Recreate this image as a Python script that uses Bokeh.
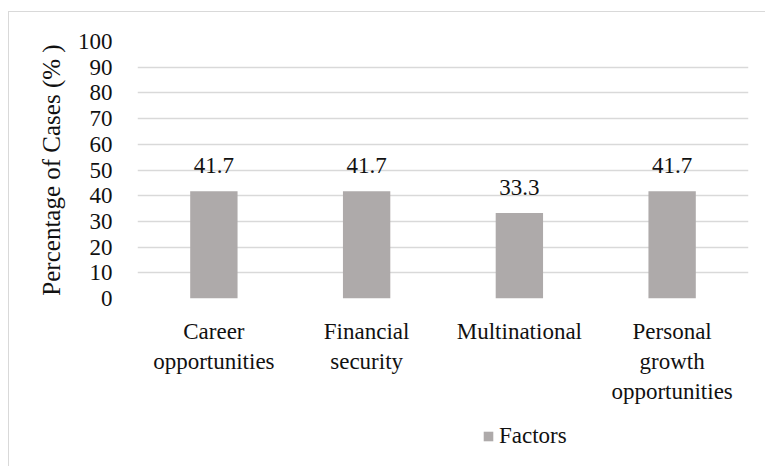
from bokeh.plotting import figure
from bokeh.layouts import column
from bokeh.core.properties import value
from bokeh.models import (FactorRange, Range1d, FixedTicker, ColumnDataSource,
                          LabelSet, Legend, LegendItem)
from bokeh.embed import file_html
from bokeh.resources import INLINE

categories = ["Career\nopportunities", "Financial\nsecurity", "Multinational",
              "Personal\ngrowth\nopportunities"]
values = [41.7, 41.7, 33.3, 41.7]
value_labels = ["41.7", "41.7", "33.3", "41.7"]
y_ticks = [0, 10, 20, 30, 40, 50, 60, 70, 80, 90, 100]
series_name = "Factors"
y_title = "Percentage of Cases (% )"

FONT = "'Liberation Serif', 'Times New Roman', serif"
BAR = "#AEAAAA"
GRID = "#D9D9D9"
INK = "#111111"

src = ColumnDataSource(dict(cat=categories, val=values, lab=value_labels))

p = figure(width=757, height=394, x_range=FactorRange(*categories, range_padding=0),
           y_range=Range1d(0, 100), output_backend="svg", toolbar_location=None,
           min_border_left=128, min_border_right=18, min_border_top=29,
           min_border_bottom=95)
p.outline_line_color = None
p.background_fill_color = "white"
p.border_fill_color = "white"

r = p.vbar(x="cat", top="val", width=0.31, source=src, fill_color=BAR, line_color=None)

p.yaxis.ticker = FixedTicker(ticks=y_ticks)
p.ygrid.ticker = FixedTicker(ticks=y_ticks)
p.ygrid.grid_line_color = GRID
p.ygrid.grid_line_width = 1.5
p.xgrid.grid_line_color = None

for ax in (p.xaxis[0], p.yaxis[0]):
    ax.axis_line_color = None
    ax.major_tick_line_color = None
    ax.minor_tick_line_color = None
    ax.major_label_text_font = FONT
    ax.major_label_text_font_size = "23px"
    ax.major_label_text_color = INK

p.yaxis.major_label_standoff = 19
p.xaxis.major_label_standoff = 14
p.yaxis.axis_label = y_title
p.yaxis.axis_label_text_font = FONT
p.yaxis.axis_label_text_font_size = "25px"
p.yaxis.axis_label_text_font_style = "normal"
p.yaxis.axis_label_text_color = INK
p.yaxis.axis_label_standoff = 10

labels = LabelSet(x="cat", y="val", text="lab", source=src, text_align="center",
                  text_baseline="alphabetic", y_offset=18, text_font=value(FONT),
                  text_font_size="23px", text_color=INK)
p.add_layout(labels)

# legend strip under the chart
q = figure(width=757, height=61, x_range=p.x_range, y_range=Range1d(1000, 1001),
           output_backend="svg", toolbar_location=None,
           x_axis_location=None, y_axis_location=None,
           min_border_left=0, min_border_right=0, min_border_top=0, min_border_bottom=0)
q.outline_line_color = None
q.xgrid.grid_line_color = None
q.ygrid.grid_line_color = None
rq = q.vbar(x="cat", top="val", width=0.31, source=src, fill_color=BAR, line_color=None)
legend = Legend(items=[LegendItem(label=series_name, renderers=[rq])],
                location=(345, 18), orientation="horizontal",
                padding=0, margin=0, border_line_color=None,
                background_fill_alpha=0, glyph_width=12, glyph_height=12,
                label_standoff=5, label_text_font=FONT,
                label_text_font_size="23px", label_text_color=INK)
q.add_layout(legend)

layout = column(p, q, spacing=0)
layout.margin = (11, 0, 0, 8)
layout.styles = {"border-top": "1px solid #d9d9d9", "border-left": "1px solid #d9d9d9"}

open("out.html", "w").write(file_html(layout, INLINE))
